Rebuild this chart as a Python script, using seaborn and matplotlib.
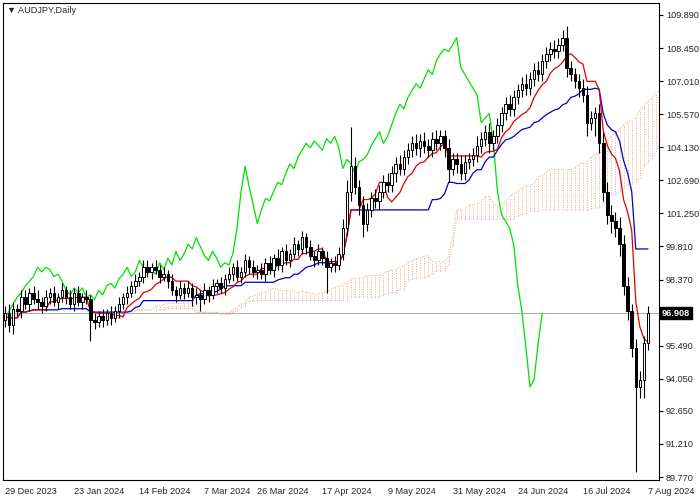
import matplotlib
matplotlib.use("Agg")
import matplotlib.pyplot as plt
import numpy as np
import pandas as pd
import seaborn as sns

# AUDJPY daily closes (29 Dec 2023 .. 7 Aug 2024)
closes = [
    96.9, 96.4, 97.1, 97.0, 97.6,
    97.3, 97.8, 97.5, 97.4, 97.2,
    97.6, 97.8, 97.4, 97.6, 97.9,
    97.6, 97.3, 97.8, 97.4, 97.6,
    97.5, 96.6, 96.5, 96.8, 96.6,
    96.9, 96.7, 97.0, 97.3, 97.6,
    97.8, 98.1, 98.3, 98.5, 98.9,
    98.7, 98.9, 98.8, 98.5, 98.6,
    98.3, 97.9, 97.7, 98.0, 97.8,
    98.0, 97.6, 97.7, 97.5, 97.9,
    97.7, 98.1, 98.2, 98.0, 98.4,
    98.6, 98.9, 98.5, 98.7, 99.2,
    98.9, 98.7, 98.8, 98.6, 99.1,
    98.8, 99.3, 99.0, 99.6, 99.2,
    99.5, 99.9, 99.7, 100.2, 99.8,
    99.4, 99.2, 99.6, 99.3, 98.9,
    99.1, 99.0, 99.5, 100.6, 102.2,
    103.3, 102.4, 101.6, 100.8, 101.4,
    101.9, 101.8, 102.2, 102.6, 102.5,
    103.0, 103.4, 103.2, 103.7, 104.0,
    104.3, 104.1, 104.4, 104.2, 104.0,
    104.5, 104.3, 104.6, 104.1, 103.2,
    103.6, 103.4, 103.0, 103.5, 103.6,
    103.8, 104.2, 104.5, 104.8, 104.3,
    104.6, 105.1, 105.6, 106.0, 105.8,
    106.3, 106.6, 106.9, 106.7, 107.1,
    107.5, 107.3, 107.9, 108.2, 108.4,
    108.3, 108.6, 108.9, 107.6, 107.3,
    107.0, 106.7, 106.4, 105.2, 105.4,
    105.6, 104.3, 102.2, 101.2, 100.9,
    100.6, 99.9, 98.1, 97.0, 95.4,
    93.7, 94.0, 95.6, 96.908,
]
first_open = 96.6
up_wick = [
    0.3, 0.4, 0.3, 0.2, 0.3,
    0.3, 0.2, 0.3, 0.4, 0.2,
    0.3, 0.2, 0.3, 0.2, 0.3,
    0.2, 0.3, 0.2, 0.3, 0.2,
    0.3, 0.2, 0.3, 0.2, 0.3,
    0.2, 0.3, 0.2, 0.3, 0.2,
    0.3, 0.2, 0.3, 0.2, 0.3,
    0.3, 0.2, 0.3, 0.2, 0.3,
    0.2, 0.3, 0.2, 0.3, 0.2,
    0.3, 0.2, 0.3, 0.2, 0.3,
    0.2, 0.3, 0.2, 0.3, 0.2,
    0.3, 0.2, 0.3, 0.2, 0.3,
    0.2, 0.3, 0.2, 0.3, 0.2,
    0.3, 0.2, 0.4, 0.2, 0.3,
    0.2, 0.3, 0.2, 0.3, 0.2,
    0.3, 0.2, 0.3, 0.2, 0.3,
    0.2, 0.3, 0.3, 0.4, 0.5,
    1.7, 0.4, 0.3, 0.4, 0.3,
    0.3, 0.4, 0.3, 0.3, 0.4,
    0.3, 0.3, 0.4, 0.3, 0.3,
    0.3, 0.4, 0.3, 0.4, 0.3,
    0.3, 0.4, 0.3, 0.3, 0.4,
    0.3, 0.3, 0.4, 0.3, 0.3,
    0.3, 0.4, 0.3, 0.3, 0.4,
    0.3, 0.3, 0.3, 0.3, 0.4,
    0.3, 0.3, 0.3, 0.4, 0.3,
    0.3, 0.4, 0.3, 0.3, 0.3,
    0.4, 0.3, 0.35, 0.5, 0.3,
    0.3, 0.3, 0.4, 0.4, 0.3,
    0.3, 0.4, 0.5, 0.4, 0.4,
    0.4, 0.5, 0.4, 0.4, 0.3,
    0.4, 0.4, 0.3, 0.3,
]
down_wick = [
    0.3, 0.3, 0.4, 0.2, 0.3,
    0.2, 0.3, 0.2, 0.3, 0.3,
    0.2, 0.3, 0.2, 0.3, 0.2,
    0.3, 0.2, 0.3, 0.2, 0.3,
    0.2, 0.9, 0.3, 0.2, 0.3,
    0.2, 0.3, 0.2, 0.3, 0.2,
    0.3, 0.2, 0.3, 0.2, 0.3,
    0.2, 0.3, 0.2, 0.3, 0.2,
    0.3, 0.2, 0.3, 0.2, 0.3,
    0.2, 0.4, 0.3, 0.5, 0.2,
    0.3, 0.2, 0.3, 0.2, 0.3,
    0.2, 0.3, 0.2, 0.3, 0.2,
    0.3, 0.2, 0.3, 0.2, 0.3,
    0.2, 0.3, 0.2, 0.3, 0.2,
    0.3, 0.2, 0.3, 0.2, 0.3,
    0.2, 0.3, 0.2, 0.3, 1.1,
    0.2, 0.3, 0.2, 0.3, 0.3,
    0.4, 0.3, 0.4, 0.6, 0.3,
    0.3, 0.3, 0.4, 0.3, 0.3,
    0.3, 0.4, 0.3, 0.3, 0.3,
    0.3, 0.3, 0.4, 0.3, 0.3,
    0.3, 0.3, 0.3, 0.4, 0.6,
    0.3, 0.4, 0.3, 0.3, 0.3,
    0.3, 0.3, 0.3, 0.3, 0.4,
    0.3, 0.3, 0.3, 0.3, 0.3,
    0.3, 0.3, 0.3, 0.3, 0.3,
    0.3, 0.3, 0.3, 0.3, 0.3,
    0.3, 0.3, 0.3, 0.4, 0.3,
    0.3, 0.4, 0.3, 0.6, 0.3,
    0.8, 0.4, 0.4, 0.4, 0.5,
    0.4, 0.5, 0.4, 0.4, 0.4,
    3.7, 0.5, 0.8, 0.3,
]
tick_dates = ["29 Dec 2023", "23 Jan 2024", "14 Feb 2024", "7 Mar 2024",
              "26 Mar 2024", "17 Apr 2024", "9 May 2024", "31 May 2024",
              "24 Jun 2024", "16 Jul 2024", "7 Aug 2024"]
price_ticks = [109.89, 108.45, 107.01, 105.57, 104.13, 102.69, 101.25,
               99.81, 98.37, 95.49, 94.05, 92.65, 91.21, 89.77]

# ---- build OHLC frame
dates = pd.bdate_range("2023-12-29", periods=len(closes))
df = pd.DataFrame({"close": closes}, index=dates)
df["open"] = [first_open] + closes[:-1]
df["high"] = df[["open", "close"]].max(axis=1) + up_wick
df["low"] = df[["open", "close"]].min(axis=1) - down_wick
n = len(df)
idx = np.arange(n)


def _mid(period):
    return (df["high"].rolling(period, min_periods=1).max()
            + df["low"].rolling(period, min_periods=1).min()) / 2


tenkan = _mid(9).values
kijun = _mid(26).values
span_a = (tenkan + kijun) / 2
span_b = _mid(52).values
shift = 26
cloud_x = idx + shift
chikou_x = idx - shift

sns.set_style("white")
plt.rcParams["font.family"] = ["Liberation Sans", "DejaVu Sans"]
fs = 6.6
fig = plt.figure(figsize=(7, 5), dpi=100)
ax = fig.add_axes([3 / 700, 20 / 500, 656 / 700, 477 / 500])

# cloud: dotted vertical hatching like MT4
ax.vlines(cloud_x, np.minimum(span_a, span_b), np.maximum(span_a, span_b),
          colors="#f0a878", linestyles=(0, (1, 1.5)), lw=0.7, zorder=1)
ax.plot(cloud_x, span_a, color="#f4a460", lw=0.7, ls=(0, (1, 1.5)), zorder=1)
ax.plot(cloud_x, span_b, color="#d8bfd8", lw=0.7, ls=(0, (1, 1.5)), zorder=1)

sns.lineplot(x=chikou_x, y=df["close"].values, color="#00e000", lw=0.9, ax=ax, zorder=2)
sns.lineplot(x=idx, y=kijun, color="#0000c8", lw=0.9, ax=ax, zorder=2)
sns.lineplot(x=idx, y=tenkan, color="#e00000", lw=0.9, ax=ax, zorder=2)

# candles
up = df["close"].values >= df["open"].values
ax.vlines(idx, df["low"], df["high"], colors="black", lw=0.8, zorder=3)
body_lo = np.minimum(df["open"], df["close"])
body_h = np.maximum(np.abs(df["close"] - df["open"]).values, 0.03)
ax.bar(idx, body_h, bottom=body_lo, width=0.62,
       color=np.where(up, "white", "black"), edgecolor="black", lw=0.7, zorder=4)

last = closes[-1]
ax.axhline(last, color="#b0b0b0", lw=0.8, zorder=0)

ax.set_xlim(-0.5, 160.7)
ax.set_ylim(89.64, 110.41)
ax.yaxis.tick_right()
ax.set_yticks(price_ticks)
ax.set_yticklabels([f"{p:.3f}" for p in price_ticks], fontsize=fs)
tick_pos = [dates.get_indexer([pd.Timestamp(d)])[0] for d in tick_dates]
ax.set_xticks(tick_pos)
ax.set_xticklabels(tick_dates, fontsize=fs, ha="left")
ax.tick_params(axis="both", length=3, width=0.8, color="black", pad=2)
ax.tick_params(axis="y", length=3, pad=2)
for s in ax.spines.values():
    s.set_color("black")
    s.set_linewidth(0.8)
ax.text(1.004, last, f"{last:.3f}", transform=ax.get_yaxis_transform(),
        fontsize=fs, color="white", fontweight="bold", va="center", ha="left",
        bbox=dict(boxstyle="square,pad=0.2", fc="black", ec="black"))
ax.text(0.006, 0.993, "\u25bc AUDJPY,Daily", transform=ax.transAxes,
        fontsize=fs, va="top", ha="left", family=["Liberation Sans", "DejaVu Sans"])
ax.set_xlabel("")
ax.set_ylabel("")

fig.savefig("out.png", dpi=100)
